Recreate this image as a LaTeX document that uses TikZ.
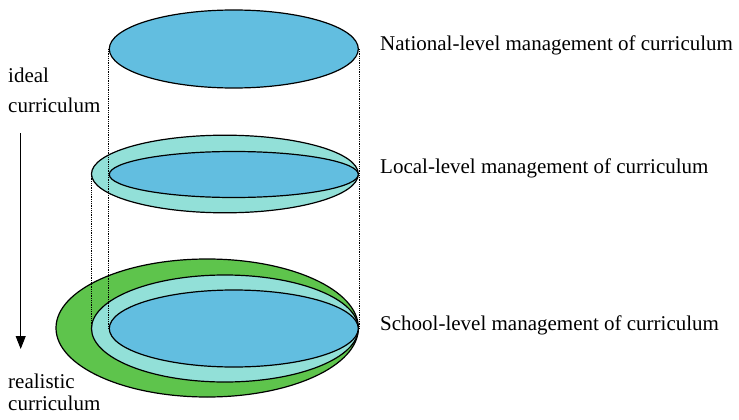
\documentclass[tikz,border=0pt]{standalone}
\usepackage{fontspec}
\setmainfont{Liberation Serif}
\usetikzlibrary{shapes.geometric,arrows.meta}
\definecolor{lvblue}{RGB}{98,190,224}
\definecolor{lvteal}{RGB}{146,224,216}
\definecolor{lvgreen}{RGB}{94,196,76}
\tikzset{
  disc/.style={ellipse,draw=black,line width=1.2pt,inner sep=0pt,minimum width=#1},
  guide/.style={line width=0.8pt,dash pattern=on 0.9pt off 0.9pt},
  lbl/.style={anchor=base west,inner sep=0pt,font=\fontsize{21}{25}\selectfont}
}
\begin{document}
\begin{tikzpicture}[x=1pt,y=-1pt]
\useasboundingbox (0,0) rectangle (739,420);
% top
\node[disc=249pt,minimum height=78pt,fill=lvblue] (nat) at (233.8,49) {};
% middle
\node[disc=266.8pt,minimum height=77.6pt,fill=lvteal] (locO) at (224.9,174) {};
\node[disc=249pt,minimum height=46pt,fill=lvblue] (locI) at (233.8,174.5) {};
% bottom
\node[disc=302.4pt,minimum height=138pt,fill=lvgreen] (schG) at (207.2,328) {};
\node[disc=266.8pt,minimum height=107pt,fill=lvteal] (schT) at (224.9,328.5) {};
\node[disc=249pt,minimum height=77pt,fill=lvblue] (schB) at (233.8,328.5) {};
% guides
\draw[guide] (nat.west) -- (schB.west);
\draw[guide] (nat.east) -- (schB.east);
\draw[guide] (locO.west) -- (schT.west);
% labels
\node[lbl] (l1) at (380,51) {National-level management of curriculum};
\node[lbl] (l2) at (380,173.3) {Local-level management of curriculum};
\node[lbl] (l3) at (380,330) {School-level management of curriculum};
\node[lbl] (i1) at (8,82.3) {ideal};
\node[lbl] (i2) at (8,112.7) {curriculum};
\node[lbl] (r1) at (8,388) {realistic};
\node[lbl] (r2) at (8,410.5) {curriculum};
\coordinate (aS) at (20.7,133);
\coordinate (aE) at (20.7,349);
\draw[line width=1pt,-{Triangle[width=10pt,length=13pt]}] (aS) -- (aE);
\end{tikzpicture}
\end{document}
